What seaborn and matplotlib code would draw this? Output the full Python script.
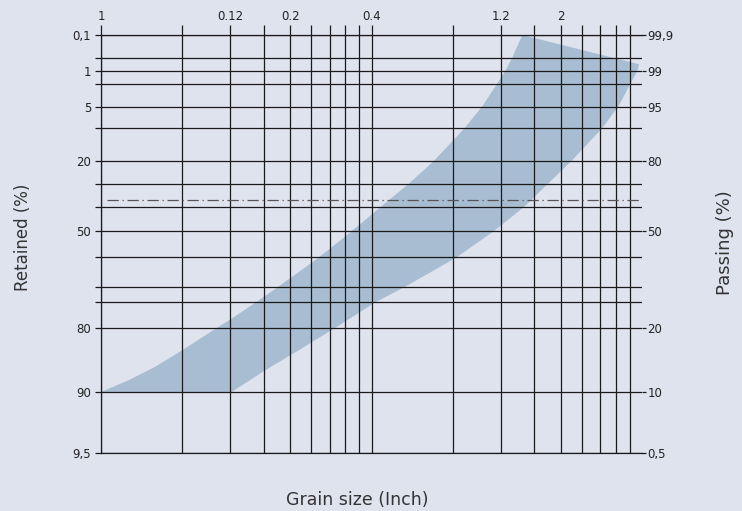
import numpy as np
import seaborn as sns
import matplotlib.pyplot as plt

# grid levels of the chart (passing %), bottom to top
passing_levels = [0.5, 10, 20, 25, 30, 40, 50, 60, 70, 80, 90, 95, 98, 99, 99.5, 99.9]
# where each level sits on the printed sheet (px above the bottom line)
level_pos = [0, 61, 125, 151, 166, 196, 222, 246, 269, 292, 325, 346, 369, 382, 395, 418]

labelled_levels = [99.9, 99, 95, 80, 50, 20, 10, 0.5]
retained_labels = ["0,1", "1", "5", "20", "50", "80", "90", "9,5"]
passing_labels = ["99,9", "99", "95", "80", "50", "20", "10", "0,5"]

grain_lines = [1, 2, 3, 4, 5, 6, 7, 8, 9, 10, 20, 30, 40, 50, 60, 70, 80, 90]
top_ticks = [1, 3, 5, 10, 30, 50]
top_labels = ["1", "0.12", "0.2", "0.4", "1.2", "2"]

# band: fine edge (bottom to top) and coarse edge (top to bottom)
fine_size = [1.0, 1.26, 1.58, 2.01, 2.63, 3.04, 3.61, 4.46, 6.27, 8.29, 10.7, 13.7, 17.0,
             22.0, 25.7, 29.2, 31.2, 33.1, 36.1]
fine_pass = [10, 11.8, 13.9, 16.6, 19.8, 21.8, 24.4, 29.7, 39.3, 49.2, 59.6, 70, 80,
             89.8, 95.1, 98.05, 99, 99.5, 99.9]
coarse_size = [97.5, 96.1, 90.85, 81.8, 71.0, 55.3, 44.7, 36.7, 28.4, 20.5, 13.2, 10.3,
               7.30, 5.42, 4.05, 3.04]
coarse_pass = [99.26, 99, 98.05, 95.1, 89.8, 80.3, 69.9, 60.1, 50, 39.7, 29.9, 24.9,
               19.95, 16.6, 13.4, 10]

char_passing = 63.2

bg = "#dfe3ee"
band_col = "#a9bdd2"
line_col = "#1a1a1a"

sns.set_theme(style="white", rc={"axes.facecolor": bg, "figure.facecolor": bg})
plt.rcParams["font.family"] = ["DejaVu Sans"]


def fwd(p):
    return np.interp(p, passing_levels, level_pos)


def inv(v):
    return np.interp(v, level_pos, passing_levels)


fig = plt.figure(figsize=(7.42, 5.11), dpi=100)
W, H = 742, 511
ax = fig.add_axes([101 / W, (H - 453) / H, (642 - 101) / W, (453 - 35) / H])

ax.fill(fine_size + coarse_size, fine_pass + coarse_pass, color=band_col, lw=0, zorder=1)

ax.set_xscale("log")
ax.set_xlim(1, 100)
ax.set_yscale("function", functions=(fwd, inv))
ax.set_ylim(0.5, 99.9)

# horizontal grid + left labels
ax.set_yticks(passing_levels)
ax.set_yticklabels([retained_labels[labelled_levels.index(v)] if v in labelled_levels else ""
                    for v in passing_levels])
ax.yaxis.set_minor_locator(plt.NullLocator())
ax.tick_params(axis="y", which="major", left=True, length=4, width=0.9, color=line_col,
               labelsize=8.5, labelcolor="#222222", pad=3)

# vertical grid + top labels
ax.set_xticks(grain_lines)
ax.set_xticklabels([top_labels[top_ticks.index(v)] if v in top_ticks else "" for v in grain_lines])
ax.xaxis.set_minor_locator(plt.NullLocator())
ax.xaxis.tick_top()
ax.tick_params(axis="x", which="major", top=True, bottom=False, length=7, width=0.9,
               color=line_col, labelsize=8.5, labelcolor="#222222", pad=1.5)

ax.grid(True, color=line_col, lw=0.9, zorder=2)
ax.set_axisbelow(False)
for s in ["left", "top", "bottom"]:
    ax.spines[s].set_color(line_col)
    ax.spines[s].set_linewidth(0.9)
ax.spines["right"].set_visible(False)

ax.axhline(char_passing, xmin=0.011, color="#555555", lw=0.9, ls=(0, (9, 3, 1, 3)), zorder=3)

# right labels
ax2 = ax.twinx()
ax2.set_yscale("function", functions=(fwd, inv))
ax2.set_ylim(0.5, 99.9)
ax2.set_yticks(labelled_levels)
ax2.set_yticklabels(passing_labels)
ax2.yaxis.set_minor_locator(plt.NullLocator())
ax2.tick_params(axis="y", right=True, length=3, width=0.9, color=line_col,
                labelsize=8.5, labelcolor="#222222", pad=1)
for s in ax2.spines.values():
    s.set_visible(False)

fig.text(23 / W, 1 - 237 / H, "Retained (%)", rotation=90, ha="center", va="center",
         fontsize=12, color="#333333")
fig.text(725 / W, 1 - 243 / H, "Passing (%)", rotation=90, ha="center", va="center",
         fontsize=13, color="#333333")
fig.text(357 / W, 1 - 500 / H, "Grain size (Inch)", ha="center", va="center",
         fontsize=12.5, color="#333333")

fig.savefig("out.png", dpi=100)
